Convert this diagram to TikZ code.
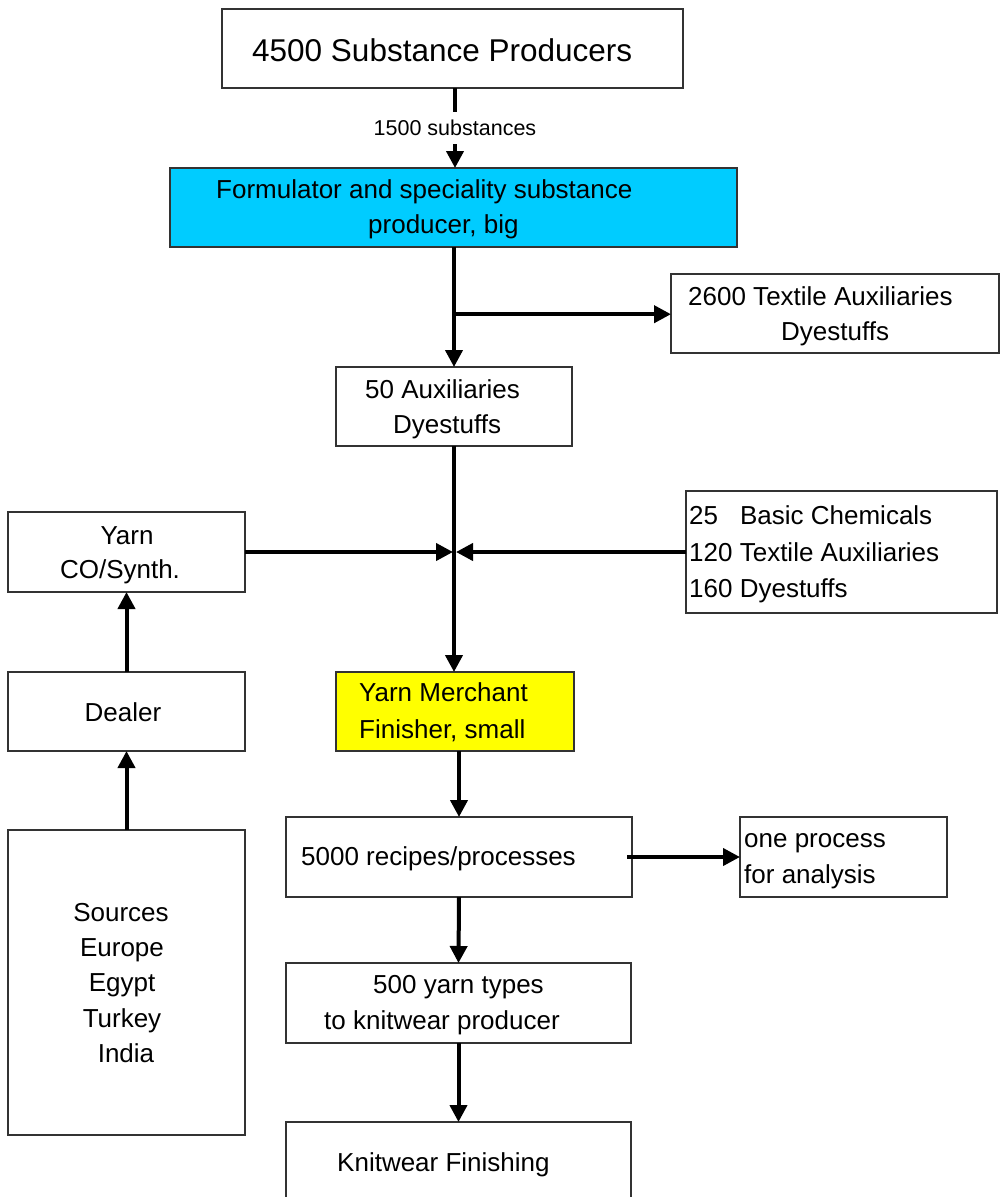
\documentclass[tikz,border=0pt]{standalone}
\usepackage{fontspec}
\setmainfont{Liberation Sans}
\usetikzlibrary{arrows.meta,calc}
\definecolor{cyanbox}{RGB}{0,204,255}
\definecolor{yellowbox}{RGB}{255,255,0}
\begin{document}
\begin{tikzpicture}[x=1pt,y=-1pt,
  box/.style={draw=black!80, line width=1.3pt, inner sep=0pt, outer sep=0pt},
  txt/.style={anchor=base west, inner sep=0pt, font=\fontsize{26}{31}\selectfont},
  ctxt/.style={anchor=base, inner sep=0pt, font=\fontsize{26}{31}\selectfont},
  arr/.style={line width=4pt, -{Triangle[length=17pt,width=17pt]}}]
\useasboundingbox (0,0) rectangle (1000,1197);
% boxes
\node[box, minimum width=461pt, minimum height=79pt] (top) at (452.5,48.5) {};
\node[box, fill=cyanbox, minimum width=567pt, minimum height=79pt] (blue) at (453.5,207.5) {};
\node[box, minimum width=328pt, minimum height=79pt] (aux2600) at (835,313.5) {};
\node[box, minimum width=236pt, minimum height=79pt] (aux50) at (454,406.5) {};
\node[box, minimum width=237pt, minimum height=80pt] (yarn) at (126.5,552) {};
\node[box, minimum width=311pt, minimum height=122pt] (basic) at (841.5,552) {};
\node[box, fill=yellowbox, minimum width=238pt, minimum height=79pt] (merchant) at (455,711.5) {};
\node[box, minimum width=237pt, minimum height=79pt] (dealer) at (126.5,711.5) {};
\node[box, minimum width=237pt, minimum height=305pt] (sources) at (126.5,982.5) {};
\node[box, minimum width=346pt, minimum height=80pt] (recipes) at (459,857) {};
\node[box, minimum width=207pt, minimum height=80pt] (oneproc) at (843.5,857) {};
\node[box, minimum width=345pt, minimum height=80pt] (yarn500) at (458.5,1003) {};
\node[box, minimum width=345pt, minimum height=83pt] (knit) at (458.5,1163.5) {};
% texts
\node[txt, font=\fontsize{31.5}{36}\selectfont] (ttop) at (252,61) {4500 Substance Producers};
\node[txt] (tblue1) at (216,198) {Formulator and speciality substance};
\node[txt] (tblue2) at (368,233) {producer, big};
\node[txt] (taux1) at (688,305) {2600 Textile Auxiliaries};
\node[txt] (taux2) at (781,340) {Dyestuffs};
\node[txt] (tfifty1) at (365,398) {50 Auxiliaries};
\node[txt] (tfifty2) at (393,433) {Dyestuffs};
\node[ctxt] (tyarn1) at (127,544) {Yarn};
\node[ctxt] (tyarn2) at (120,578) {CO/Synth.};
\node[txt] (tbasic1) at (689,524) {25\hspace{22pt}Basic Chemicals};
\node[txt] (tbasic2) at (689,561) {120 Textile Auxiliaries};
\node[txt] (tbasic3) at (689,597) {160 Dyestuffs};
\node[txt] (tmer1) at (359,701) {Yarn Merchant};
\node[txt] (tmer2) at (359,738) {Finisher, small};
\node[ctxt] (tdealer) at (123,721) {Dealer};
\node[ctxt] (tsrc1) at (121,921) {Sources};
\node[ctxt] (tsrc2) at (122,956) {Europe};
\node[ctxt] (tsrc3) at (122,991) {Egypt};
\node[ctxt] (tsrc4) at (122,1027) {Turkey};
\node[ctxt] (tsrc5) at (126,1062) {India};
\node[txt] (trec) at (301,865) {5000 recipes/processes};
\node[txt] (tone1) at (744,847) {one process};
\node[txt] (tone2) at (744,883) {for analysis};
\node[txt] (ty5001) at (373,993) {500 yarn types};
\node[txt] (ty5002) at (324,1029) {to knitwear producer};
\node[txt] (tknit) at (337,1171) {Knitwear Finishing};
% connectors
\draw[arr] ([xshift=2.5pt]top.south) -- ([xshift=1.5pt]blue.north)
  node[midway, fill=white, inner xsep=2pt, inner ysep=8pt, font=\fontsize{21.5}{24}\selectfont] (lbl) {1500 substances};
\coordinate (branch) at ($(blue.south -| aux50.north)!0.56!(aux50.north)$);
\draw[arr] (blue.south -| aux50.north) -- (aux50.north);
\draw[arr] (branch) -- (branch -| aux2600.west);
\coordinate (junction) at (aux50.south |- yarn.east);
\draw[arr] (aux50.south) -- (merchant.north -| aux50.south);
\draw[arr] (yarn.east) -- ([xshift=-1pt]junction);
\draw[arr] (basic.west) -- ([xshift=2pt]junction);
\draw[arr] (recipes.north |- merchant.south) -- (recipes.north);
\draw[arr] ([xshift=-5pt]recipes.east) -- (oneproc.west);
\draw[arr] (recipes.south) -- (yarn500.north);
\draw[arr] (yarn500.south) -- (knit.north);
\draw[arr] (sources.north) -- (dealer.south);
\draw[arr] (dealer.north) -- (yarn.south);
\end{tikzpicture}
\end{document}
